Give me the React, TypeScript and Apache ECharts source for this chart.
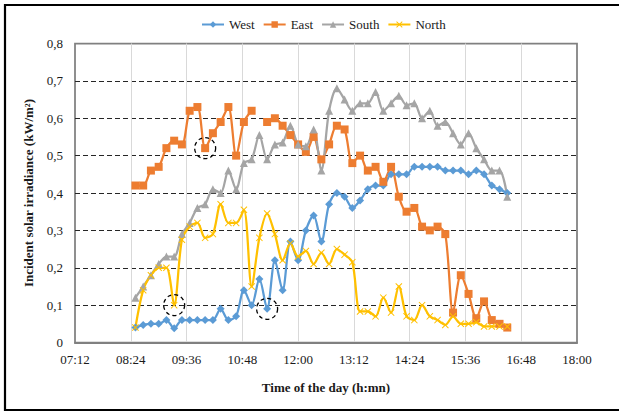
import React, { useEffect, useRef } from 'react';
import * as echarts from 'echarts';

const times = [
  '08:30', '08:40', '08:50', '09:00', '09:10', '09:20', '09:30', '09:40', '09:50', '10:00',
  '10:10', '10:20', '10:30', '10:40', '10:50', '11:00', '11:10', '11:20', '11:30', '11:40',
  '11:50', '12:00', '12:10', '12:20', '12:30', '12:40', '12:50', '13:00', '13:10', '13:20',
  '13:30', '13:40', '13:50', '14:00', '14:10', '14:20', '14:30', '14:40', '14:50', '15:00',
  '15:10', '15:20', '15:30', '15:40', '15:50', '16:00', '16:10', '16:20', '16:30',
];

const west = [
  0.04, 0.047, 0.05, 0.05, 0.06, 0.038, 0.06, 0.06, 0.06, 0.06,
  0.06, 0.09, 0.06, 0.07, 0.14, 0.10, 0.17, 0.09, 0.22, 0.14,
  0.27, 0.22, 0.30, 0.34, 0.27, 0.37, 0.40, 0.39, 0.36, 0.38,
  0.41, 0.42, 0.42, 0.45, 0.45, 0.45, 0.47, 0.47, 0.47, 0.47,
  0.46, 0.46, 0.46, 0.45, 0.46, 0.45, 0.42, 0.41, 0.40,
];

const east = [
  0.42, 0.42, 0.46, 0.47, 0.52, 0.54, 0.53, 0.62, 0.63, 0.52,
  0.56, 0.59, 0.63, 0.50, 0.59, 0.62, null, 0.59, 0.60, 0.58,
  0.555, 0.53, 0.51, 0.55, 0.49, 0.53, 0.58, 0.57, 0.48, 0.50,
  0.46, 0.47, 0.43, 0.47, 0.39, 0.35, 0.36, 0.31, 0.30, 0.31,
  0.29, 0.08, 0.18, 0.13, 0.065, 0.11, 0.06, 0.05, 0.04,
];

const south = [
  0.12, 0.15, 0.18, 0.21, 0.23, 0.23, 0.29, 0.32, 0.36, 0.37,
  0.41, 0.40, 0.46, 0.41, 0.48, 0.49, 0.555, 0.49, 0.53, 0.535,
  0.58, 0.53, 0.525, 0.57, 0.46, 0.62, 0.68, 0.65, 0.62, 0.64,
  0.64, 0.67, 0.62, 0.64, 0.66, 0.635, 0.64, 0.60, 0.62, 0.58,
  0.59, 0.56, 0.53, 0.56, 0.52, 0.49, 0.46, 0.46, 0.39,
];

const north = [
  0.04, 0.14, 0.18, 0.20, 0.20, 0.10, 0.275, 0.31, 0.32, 0.28,
  0.29, 0.37, 0.32, 0.32, 0.355, 0.15, 0.28, 0.345, 0.29, 0.22,
  0.265, 0.23, 0.245, 0.21, 0.24, 0.21, 0.25, 0.235, 0.215, 0.083,
  0.083, 0.07, 0.12, 0.08, 0.15, 0.07, 0.06, 0.10, 0.07, 0.06,
  0.047, 0.07, 0.05, 0.05, 0.054, 0.043, 0.043, 0.043, 0.043,
];

const xTickLabels = ['07:12', '08:24', '09:36', '10:48', '12:00', '13:12', '14:24', '15:36', '16:48', '18:00'];
const yTickLabels = ['0', '0,1', '0,2', '0,3', '0,4', '0,5', '0,6', '0,7', '0,8'];

// circled (dashed) points
const circledEast = ['10:00'];
const circledNorth = ['09:20'];
const circledWest = ['11:20'];

const toMin = (t: string) => {
  const [h, m] = t.split(':').map(Number);
  return h * 60 + m;
};

const FONT = '"Liberation Serif", "Times New Roman", serif';
const TEXT = '#1a1a1a';
const xMin = toMin(xTickLabels[0]);
const xMax = toMin(xTickLabels[xTickLabels.length - 1]);
const xStep = toMin(xTickLabels[1]) - xMin;

const xPath = 'path://M0,1L1,0L5,4L9,0L10,1L6,5L10,9L9,10L5,6L1,10L0,9L4,5Z';

function makeSeries(name: string, values: (number | null)[], color: string, symbol: string, size: number, circled: string[]) {
  return {
    name,
    type: 'line',
    data: times.map((t, i) => [toMin(t), values[i] == null ? '-' : values[i]]),
    smooth: 0.3,
    symbol,
    symbolSize: size,
    showAllSymbol: true,
    lineStyle: { width: 2.25, color },
    itemStyle: { color },
    emphasis: { disabled: true },
    markPoint: {
      silent: true,
      symbol: 'circle',
      symbolSize: 21,
      label: { show: false },
      itemStyle: { color: 'rgba(0,0,0,0)', borderColor: '#000', borderWidth: 1.3, borderType: [4, 3] },
      data: circled.map((t) => ({ coord: [toMin(t), values[times.indexOf(t)]] })),
    },
  };
}

export default function App() {
  const ref = useRef<HTMLDivElement>(null);
  useEffect(() => {
    if (!ref.current) return;
    const chart = echarts.init(ref.current, null, { renderer: 'svg' });
    const gridLineColors = yTickLabels.map((_, i) => (i === 0 || i === yTickLabels.length - 1 ? 'rgba(0,0,0,0)' : '#262626'));
    const vLineColors = xTickLabels.map((_, i) => (i === 0 || i === xTickLabels.length - 1 ? 'rgba(0,0,0,0)' : '#d9d9d9'));
    chart.setOption({
      animation: false,
      backgroundColor: '#fff',
      textStyle: { fontFamily: FONT },
      graphic: [
        {
          type: 'rect',
          shape: { x: 5, y: 5, width: 640, height: 405 },
          style: { fill: 'none', stroke: '#000', lineWidth: 2.2 },
          silent: true,
        },
      ],
      legend: {
        left: 196,
        top: 13,
        itemWidth: 22,
        itemHeight: 8,
        itemGap: 8,
        textStyle: { fontFamily: FONT, fontSize: 13, color: TEXT },
        data: ['West', 'East', 'South', 'North'],
      },
      grid: {
        left: 75,
        top: 43.5,
        width: 502,
        height: 299,
        show: true,
        borderColor: '#808080',
        borderWidth: 1.75,
        containLabel: false,
      },
      xAxis: {
        type: 'value',
        min: xMin,
        max: xMax,
        interval: xStep,
        name: 'Time of the day (h:mn)',
        nameLocation: 'middle',
        nameGap: 38,
        nameTextStyle: { fontFamily: FONT, fontSize: 13, fontWeight: 'bold', color: TEXT },
        axisLine: { show: true, lineStyle: { color: '#808080', width: 2 } },
        axisTick: { show: false },
        axisLabel: {
          margin: 10,
          fontFamily: FONT,
          fontSize: 13,
          color: TEXT,
          formatter: (v: number) => xTickLabels[Math.round((v - xMin) / xStep)] ?? '',
        },
        splitLine: { show: true, lineStyle: { color: vLineColors, width: 1 } },
      },
      yAxis: {
        type: 'value',
        min: 0,
        max: 0.8,
        interval: 0.1,
        name: 'Incident solar irradiance (kW/m²)',
        nameLocation: 'middle',
        nameGap: 40,
        nameRotate: 90,
        nameTextStyle: { fontFamily: FONT, fontSize: 13, fontWeight: 'bold', color: TEXT },
        axisLine: { show: false },
        axisTick: { show: false },
        axisLabel: {
          margin: 12,
          fontFamily: FONT,
          fontSize: 13,
          color: TEXT,
          formatter: (v: number) => yTickLabels[Math.round(v * 10)] ?? '',
        },
        splitLine: { show: true, lineStyle: { color: gridLineColors, width: 1, type: [5, 3] } },
      },
      series: [
        makeSeries('West', west, '#5B9BD5', 'diamond', 8, circledWest),
        makeSeries('East', east, '#ED7D31', 'rect', 8, circledEast),
        makeSeries('South', south, '#A5A5A5', 'triangle', 8, []),
        makeSeries('North', north, '#FFC000', xPath, 7, circledNorth),
      ],
    });
    return () => chart.dispose();
  }, []);
  return <div ref={ref} style={{ position: 'fixed', left: 0, top: 0, width: 619, height: 415 }} />;
}
